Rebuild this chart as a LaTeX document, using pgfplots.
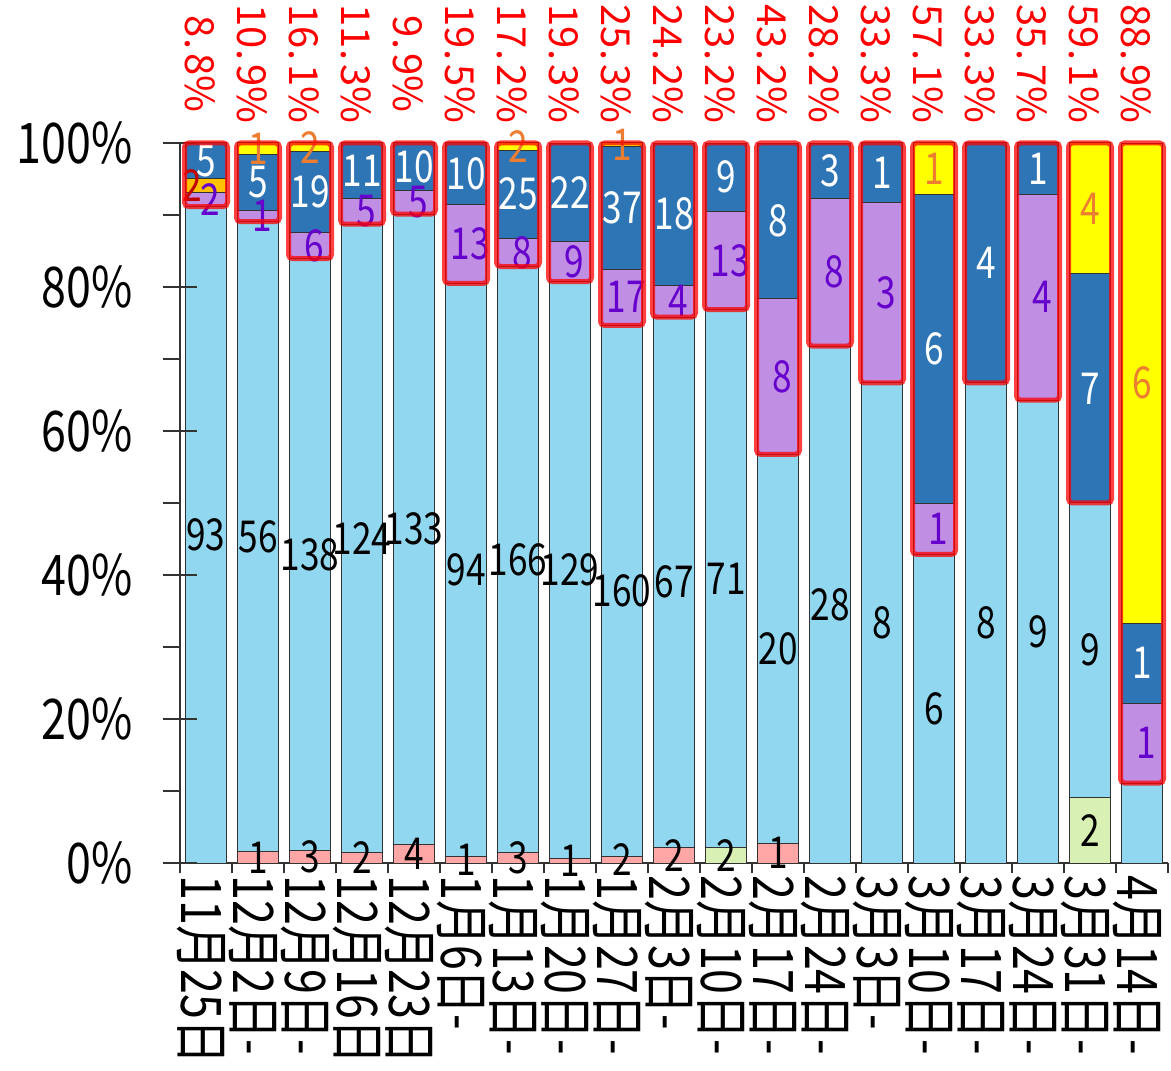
\documentclass[border=0pt]{standalone}
\usepackage{pgfplots}
\pgfplotsset{compat=1.18}
\usepackage{pgfplotstable}
\usepackage{fontspec}
\setmainfont{Noto Sans CJK JP}
\newfontfamily\nf[FakeStretch=0.8]{Noto Sans CJK JP}

\definecolor{cPk}{RGB}{255,166,166}
\definecolor{cGr}{RGB}{216,240,180}
\definecolor{cLb}{RGB}{145,215,240}
\definecolor{cPu}{RGB}{192,142,226}
\definecolor{cGo}{RGB}{255,192,0}
\definecolor{cDb}{RGB}{46,117,182}
\definecolor{cYe}{RGB}{255,255,0}
\definecolor{tPu}{RGB}{102,0,204}
\definecolor{tGo}{RGB}{192,0,0}
\definecolor{tYe}{RGB}{237,125,49}

% counts per week, n = total, pct = share printed on top
% ll = label shown on the light blue part (none on the last bar)
\pgfplotstableread{
x  pk gr lb  pu go db ye n   pct  ll
0  0  0  93  2  2  5  0  102 8.8  93
1  1  0  56  1  0  5  1  64  10.9 56
2  3  0  138 6  0  19 2  168 16.1 138
3  2  0  124 5  0  11 0  142 11.3 124
4  4  0  133 5  0  10 0  152 9.9  133
5  1  0  94  13 0  10 0  118 19.5 94
6  3  0  166 8  0  25 2  204 17.2 166
7  1  0  129 9  0  22 0  161 19.3 129
8  2  0  160 17 0  37 1  217 25.3 160
9  2  0  67  4  0  18 0  91  24.2 67
10 0  2  71  13 0  9  0  95  23.2 71
11 1  0  20  8  0  8  0  37  43.2 20
12 0  0  28  8  0  3  0  39  28.2 28
13 0  0  8   3  0  1  0  12  33.3 8
14 0  0  6   1  0  6  1  14  57.1 6
15 0  0  8   0  0  4  0  12  33.3 8
16 0  0  9   4  0  1  0  14  35.7 9
17 0  2  9   0  0  7  4  22  59.1 9
18 0  0  1   1  0  1  6  9   88.9 0
}\data

\pgfplotsset{
  seg/.style n args={3}{
    fill=#2, draw=black!80, line width=0.5pt,
    point meta=explicit symbolic,
    nodes near coords={\ifnum\pgfplotspointmeta=0 \else\pgfplotspointmeta\fi},
    every node near coord/.append style={font=\nf\fontsize{22}{22}\selectfont,
      text=#3, anchor=center, inner sep=0pt},
  },
  frame/.style={
    width=494pt, height=360pt, scale only axis, at={(0,0)}, anchor=south west,
    xmin=-0.5, xmax=18.5, ymin=0, ymax=100, clip=false,
    ybar stacked, axis lines*=left,
  },
}

\begin{document}
\begin{tikzpicture}
\useasboundingbox (-90pt,-103.5pt) rectangle (495.5pt,431.5pt);

\begin{axis}[frame, bar width=20.5pt,
  axis line style={line width=0.8pt, black!80},
  xtick={-0.5,0.5,...,18.5}, x tick label as interval,
  xticklabels={11月25日,12月2日-,12月9日-,12月16日,12月23日,1月6日-,1月13日-,1月20日-,1月27日-,2月3日-,2月10日-,2月17日-,2月24日-,3月3日-,3月10日-,3月17日-,3月24日-,3月31日-,4月14日-},
  xticklabel style={font=\nf\fontsize{28}{28}\selectfont, rotate=-90, anchor=west, inner sep=1pt, yshift=-2.5pt},
  ytick={0,20,...,100}, yticklabels={0\%,20\%,40\%,60\%,80\%,100\%},
  minor ytick={10,30,...,90},
  yticklabel style={font=\nf\fontsize{28}{28}\selectfont, inner sep=0pt, xshift=-18.5pt},
  major tick length=5pt, minor tick length=8.5pt, tick align=outside,
  tick style={black!80, line width=0.8pt},
]
\addplot[seg={pk}{cPk}{black}] table[x=x, y expr=\thisrow{pk}/\thisrow{n}*100, meta=pk]{\data};
\addplot[seg={gr}{cGr}{black}] table[x=x, y expr=\thisrow{gr}/\thisrow{n}*100, meta=gr]{\data};
\addplot[seg={lb}{cLb}{black}] table[x=x, y expr=\thisrow{lb}/\thisrow{n}*100, meta=ll]{\data};
\addplot[seg={pu}{cPu}{tPu}, every node near coord/.append style={xshift=2pt}] table[x=x, y expr=\thisrow{pu}/\thisrow{n}*100, meta=pu]{\data};
\addplot[seg={go}{cGo}{tGo}, every node near coord/.append style={xshift=-7pt}] table[x=x, y expr=\thisrow{go}/\thisrow{n}*100, meta=go]{\data};
\addplot[seg={db}{cDb}{white}] table[x=x, y expr=\thisrow{db}/\thisrow{n}*100, meta=db]{\data};
\addplot[seg={ye}{cYe}{tYe}] table[x=x, y expr=\thisrow{ye}/\thisrow{n}*100, meta=ye]{\data};
\end{axis}

% red frames round the highlighted part and the share above each bar
\begin{axis}[frame, bar width=21.5pt,
  axis line style={draw=none},
  xtick=\empty, ytick={0,20,...,100}, yticklabels={},
  major tick length=17pt, ytick align=center,
  tick style={black!80, line width=0.8pt},
]
\addplot[draw=none, fill=none] table[x=x, y expr=(\thisrow{pk}+\thisrow{gr}+\thisrow{lb})/\thisrow{n}*100]{\data};
\addplot[fill=none, draw=red, draw opacity=0.75, line width=2.5pt, rounded corners=2pt,
  point meta=explicit symbolic,
  visualization depends on={(1-(\thisrow{pk}+\thisrow{gr}+\thisrow{lb})/\thisrow{n})*180+39.5 \as \rsh},
  nodes near coords={\rotatebox{-90}{\makebox[56pt][c]{\pgfmathprintnumber[assume math mode=true, fixed, fixed zerofill, precision=1, set decimal separator={.\kern2pt}]{\pgfplotspointmeta}\%}}},
  every node near coord/.append style={yshift=\rsh pt, xshift=-3pt, anchor=center, inner sep=0pt,
    text=red, text opacity=1, font=\fontsize{20}{20}\selectfont}]
  table[x=x, y expr=100-(\thisrow{pk}+\thisrow{gr}+\thisrow{lb})/\thisrow{n}*100, meta=pct]{\data};
\end{axis}
\end{tikzpicture}
\end{document}
